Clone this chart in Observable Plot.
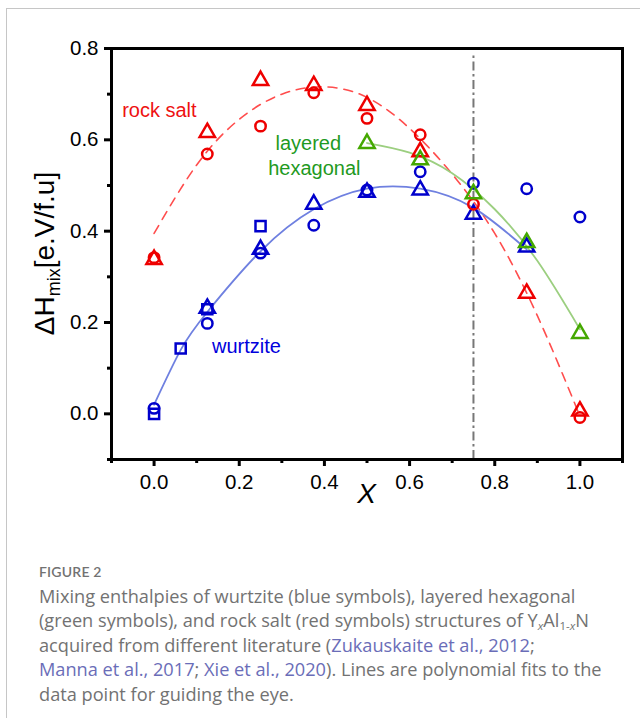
<!DOCTYPE html>
<html><head><meta charset="utf-8">
<script src="https://cdn.jsdelivr.net/npm/d3@7"></script>
<script src="https://cdn.jsdelivr.net/npm/@observablehq/plot@0.6"></script>
<style>
html,body{margin:0;padding:0;background:#fff;}
#wrap{position:relative;width:640px;height:718px;overflow:hidden;}
#border{position:absolute;left:6px;top:8px;width:700px;height:800px;border-left:1px solid #c6c6c6;border-top:1px solid #c6c6c6;}
#chart{position:absolute;left:0;top:0;}
#caption{position:absolute;left:39px;top:563px;width:600px;font-family:"Open Sans",Lato,sans-serif;color:#727272;}
#caption .fig{font-family:Lato,"Open Sans",sans-serif;font-size:14px;line-height:18px;font-weight:600;letter-spacing:0.2px;}
#caption .text{font-size:18.2px;line-height:24.5px;margin-top:2.75px;white-space:nowrap;}
#caption .ref{color:#6a6db8;}
#caption sub{font-size:11.5px;line-height:0;vertical-align:-3px;}
</style>
</head><body>
<div id="wrap">
<div id="border"></div>
<div id="chart"></div>
<div id="caption">
<div class="fig">FIGURE 2</div>
<div class="text">Mixing enthalpies of wurtzite (blue symbols), layered hexagonal<br>(green symbols), and rock salt (red symbols) structures of Y<sub><i>x</i></sub>Al<sub>1-<i>x</i></sub>N<br>acquired from different literature (<span class="ref">Zukauskaite et al., 2012</span>;<br><span class="ref">Manna et al., 2017</span>; <span class="ref">Xie et al., 2020</span>). Lines are polynomial fits to the<br>data point for guiding the eye.</div>
</div>
</div>
<script>
// Tick values
const xMajor = [0, 0.2, 0.4, 0.6, 0.8, 1.0];
const xMinor = [-0.1, 0.1, 0.3, 0.5, 0.7, 0.9, 1.1];
const yMajor = [0, 0.2, 0.4, 0.6, 0.8];
const yMinor = [-0.1, 0.1, 0.3, 0.5, 0.7];

// Rock salt (red)
const rsTriX = [0, 0.125, 0.25, 0.375, 0.5, 0.625, 0.875, 1.0];
const rsTriY = [0.338, 0.616, 0.730, 0.719, 0.675, 0.574, 0.264, 0.006];
const rsCircX = [0, 0.125, 0.25, 0.375, 0.5, 0.625, 0.75, 1.0];
const rsCircY = [0.342, 0.569, 0.630, 0.703, 0.647, 0.611, 0.459, -0.008];
const rsFitX = [0, 0.1, 0.2, 0.3, 0.4, 0.5, 0.6, 0.7, 0.8, 0.9, 1.0];
const rsFitY = [0.395, 0.545, 0.645, 0.700, 0.716, 0.693, 0.625, 0.525, 0.395, 0.215, -0.005];

// Wurtzite (blue)
const wzSqX = [0, 0.0625, 0.125, 0.25];
const wzSqY = [0.0, 0.143, 0.229, 0.411];
const wzCircX = [0, 0.125, 0.25, 0.375, 0.5, 0.625, 0.75, 0.875, 1.0];
const wzCircY = [0.012, 0.198, 0.352, 0.413, 0.490, 0.530, 0.505, 0.493, 0.431];
const wzTriX = [0.125, 0.25, 0.375, 0.5, 0.625, 0.75, 0.875];
const wzTriY = [0.231, 0.360, 0.459, 0.485, 0.490, 0.437, 0.365];
const wzFitX = [0, 0.0625, 0.125, 0.25, 0.375, 0.5, 0.625, 0.75, 0.875];
const wzFitY = [0.02, 0.14, 0.223, 0.356, 0.448, 0.493, 0.493, 0.451, 0.36];

// Layered hexagonal (green)
const lhTriX = [0.5, 0.625, 0.75, 0.875, 1.0];
const lhTriY = [0.592, 0.556, 0.482, 0.375, 0.176];
const lhFitX = [0.5, 0.6, 0.7, 0.8, 0.9, 1.0];
const lhFitY = [0.593, 0.572, 0.527, 0.448, 0.335, 0.185];

// Annotations
const labelText = ["rock salt", "layered", "hexagonal", "wurtzite"];
const labelX = [-0.075, 0.285, 0.268, 0.136];
const labelY = [0.664, 0.591, 0.538, 0.147];
const labelColor = ["#ee1111", "#1f9a1f", "#1f9a1f", "#0000dd"];

const vLineX = [0.75];
const vLineTop = 0.79;

const zip = (xs, ys) => xs.map((x, i) => ({x, y: ys[i]}));
const labels = labelText.map((t, i) => ({t, x: labelX[i], y: labelY[i], c: labelColor[i]}));

const RED = "#ee0000", BLUE = "#0000cc", GREEN = "#44a800";
const symR = 5.7, symW = 2.5;

const plot = Plot.plot({
  width: 640,
  height: 530,
  marginLeft: 111,
  marginRight: 18,
  marginTop: 48,
  marginBottom: 71,
  style: {fontFamily: "'Liberation Sans', Arial, sans-serif", background: "transparent"},
  x: {domain: [-0.1, 1.1], label: null},
  y: {domain: [-0.1, 0.8], label: null},
  marks: [
    Plot.axisX(xMajor, {tickSize: 7, tickPadding: 8, strokeWidth: 3, fontSize: 20.5, color: "black", tickFormat: d3.format(".1f"), label: null}),
    Plot.axisX(xMinor, {tickSize: 4, strokeWidth: 3, color: "black", tickFormat: () => "", label: null}),
    Plot.axisY(yMajor, {tickSize: 7, tickPadding: 6, strokeWidth: 3, fontSize: 20.5, color: "black", tickFormat: d3.format(".1f"), label: null}),
    Plot.axisY(yMinor, {tickSize: 4, strokeWidth: 3, color: "black", tickFormat: () => "", label: null}),
    Plot.ruleX(vLineX, {y1: -0.1, y2: vLineTop, stroke: "#777", strokeWidth: 2, strokeDasharray: "9,3.5,2.5,3.5"}),
    Plot.line(zip(rsFitX, rsFitY), {x: "x", y: "y", curve: "natural", stroke: "#ff4d4d", strokeWidth: 1.6, strokeDasharray: "9,7"}),
    Plot.line(zip(wzFitX, wzFitY), {x: "x", y: "y", curve: "natural", stroke: "#6f80e0", strokeWidth: 1.8}),
    Plot.line(zip(lhFitX, lhFitY), {x: "x", y: "y", curve: "natural", stroke: "#9ccf80", strokeWidth: 1.8}),
    Plot.dot(zip(wzSqX, wzSqY), {x: "x", y: "y", symbol: "square", r: symR, stroke: BLUE, strokeWidth: symW, fill: "none"}),
    Plot.dot(zip(wzCircX, wzCircY), {x: "x", y: "y", symbol: "circle", r: symR - 0.5, stroke: BLUE, strokeWidth: symW, fill: "none"}),
    Plot.dot(zip(wzTriX, wzTriY), {x: "x", y: "y", symbol: "triangle", r: symR, stroke: BLUE, strokeWidth: symW, fill: "none"}),
    Plot.dot(zip(rsTriX, rsTriY), {x: "x", y: "y", symbol: "triangle", r: symR, stroke: RED, strokeWidth: symW, fill: "none"}),
    Plot.dot(zip(rsCircX, rsCircY), {x: "x", y: "y", symbol: "circle", r: symR - 0.5, stroke: RED, strokeWidth: symW, fill: "none"}),
    Plot.dot(zip(lhTriX, lhTriY), {x: "x", y: "y", symbol: "triangle", r: symR, stroke: GREEN, strokeWidth: symW, fill: "none"}),
    Plot.text(labels, {x: "x", y: "y", text: "t", fill: "c", textAnchor: "start", fontSize: 20}),
    Plot.frame({strokeWidth: 3, stroke: "black"})
  ]
});

const svg = d3.select(plot);
const xs = plot.scale("x"), ys = plot.scale("y");
const xc = (xs.range[0] + xs.range[1]) / 2;
const yc = (ys.range[0] + ys.range[1]) / 2;
svg.append("text")
  .attr("transform", `translate(54,${yc}) rotate(-90)`)
  .attr("text-anchor", "middle")
  .attr("font-family", "'Liberation Sans', Arial, sans-serif")
  .attr("font-size", 28)
  .attr("fill", "black")
  .call(t => {
    t.append("tspan").text("ΔH");
    t.append("tspan").text("mix").attr("font-size", 18).attr("dy", 6);
    t.append("tspan").text("[e.V/f.u]").attr("dy", -6);
  });
svg.append("text")
  .attr("x", xc).attr("y", 503)
  .attr("text-anchor", "middle")
  .attr("font-family", "'Liberation Sans', Arial, sans-serif")
  .attr("font-size", 28)
  .attr("font-style", "italic")
  .attr("fill", "black")
  .text("X");

document.getElementById("chart").appendChild(plot);
</script>
</body></html>
